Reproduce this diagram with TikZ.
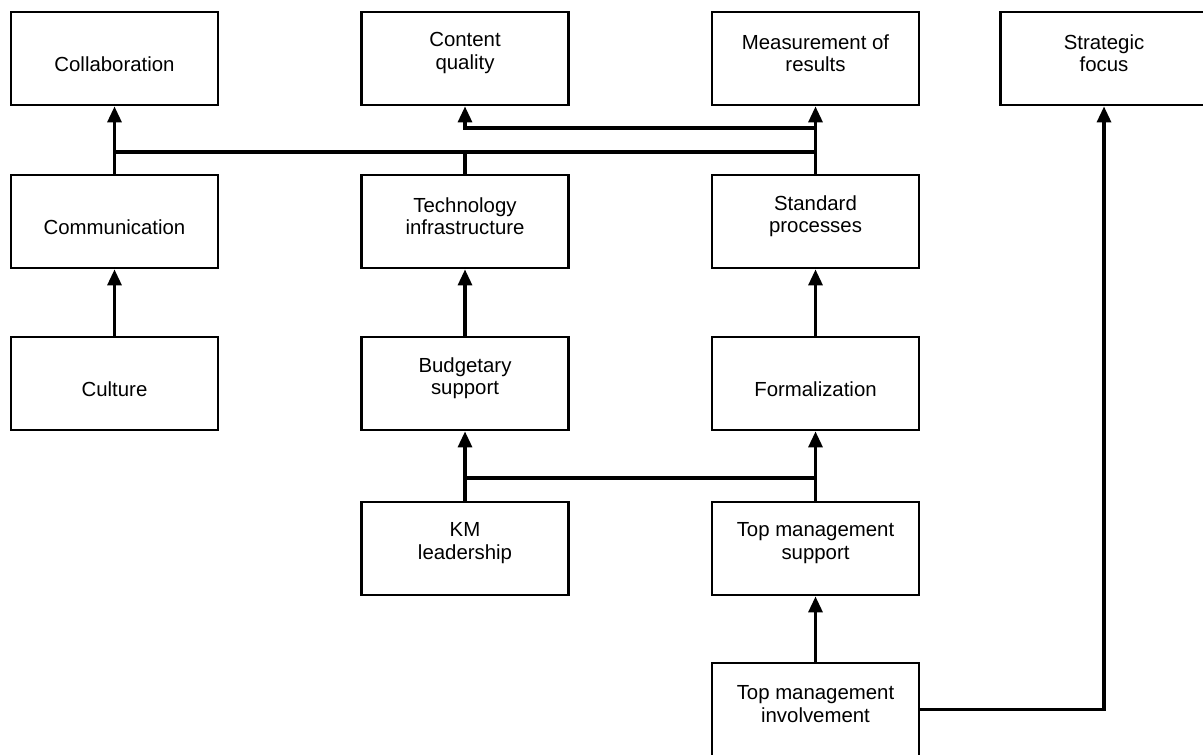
\documentclass[tikz,border=0pt]{standalone}
\usepackage{fontspec}
\setmainfont{Liberation Sans}
\usetikzlibrary{arrows.meta}

\begin{document}
\begin{tikzpicture}[
    box/.style={draw, line width=1.6pt, fill=white,
                minimum width=41.4mm, minimum height=18.6mm, inner sep=0pt},
    txt/.style={font=\fontsize{11.6pt}{12.8pt}\selectfont,
                align=center, inner sep=0pt},
    one/.style={label={[txt, yshift=-1.1mm]center:#1}},
    two/.style={label={[txt, yshift=1.1mm]center:#1}},
    arr/.style={-{Triangle[length=3.2mm, width=2.8mm]}, line width=1.8pt},
    link/.style={line width=1.8pt},
    x=0.2mm, y=-0.2mm
  ]
  \useasboundingbox (0,0) rectangle (1203,754);

  % Row 1
  \node[box, one=Collaboration] (collab) at (114.5, 58.5) {};
  \node[box, two={Content\\quality}] (content) at (465, 58.5) {};
  \node[box, two={Measurement of\\results}] (meas) at (815.5, 58.5) {};
  \node[box, two={Strategic\\focus}] (strat) at (1104, 58.5) {};

  % Row 2
  \node[box, one=Communication] (comm) at (114.5, 221.5) {};
  \node[box, two={Technology\\infrastructure}] (tech) at (465, 221.5) {};
  \node[box, two={Standard\\processes}] (std) at (815.5, 221.5) {};

  % Row 3
  \node[box, one=Culture] (cult) at (114.5, 383.5) {};
  \node[box, two={Budgetary\\support}] (budg) at (465, 383.5) {};
  \node[box, one=Formalization] (form) at (815.5, 383.5) {};

  % Row 4 and 5
  \node[box, two={KM\\leadership}] (km) at (465, 548.5) {};
  \node[box, two={Top management\\support}] (tms) at (815.5, 548.5) {};
  \node[box, two={Top management\\involvement}] (tmi) at (815.5, 709.5) {};

  % junction levels
  \coordinate (jtop) at (0, 152);
  \coordinate (jmid) at (0, 128);
  \coordinate (jlow) at (0, 478);

  % upper links
  \draw[arr] (comm) -- (collab);
  \draw[arr] (std) -- (meas);
  \draw[arr] (std.north |- jmid) -| (content.south);
  \draw[link] (comm.north |- jtop) -- (std.north |- jtop);
  \draw[link] (tech.north) -- (tech.north |- jtop);

  % middle links
  \draw[arr] (cult) -- (comm);
  \draw[arr] (budg) -- (tech);
  \draw[arr] (form) -- (std);

  % lower links
  \draw[arr] (km) -- (budg);
  \draw[arr] (tms) -- (form);
  \draw[link] (km.north |- jlow) -- (tms.north |- jlow);
  \draw[arr] (tmi) -- (tms);
  \draw[arr] (tmi.east) -| (strat.south);
\end{tikzpicture}
\end{document}
